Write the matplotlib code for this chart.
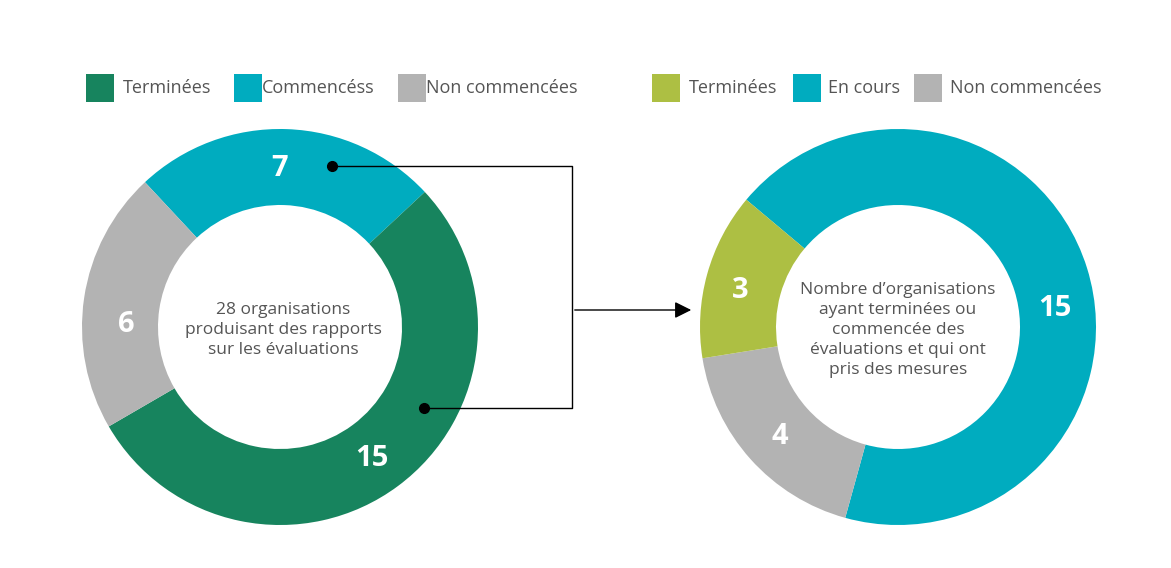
import matplotlib
matplotlib.use("Agg")
import matplotlib.pyplot as plt
from matplotlib.patches import Rectangle

plt.rcParams['font.family'] = ['Open Sans', 'DejaVu Sans']

left_labels = ["Commencéss", "Terminées", "Non commencées"]
left_values = [7, 15, 6]
left_colors = ["#00ACBF", "#17845E", "#B3B3B3"]
left_legend = ["Terminées", "Commencéss", "Non commencées"]
left_legend_colors = ["#17845E", "#00ACBF", "#B3B3B3"]

right_labels = ["En cours", "Non commencées", "Terminées"]
right_values = [15, 4, 3]
right_colors = ["#00ACBF", "#B3B3B3", "#ADBF43"]
right_legend = ["Terminées", "En cours", "Non commencées"]
right_legend_colors = ["#ADBF43", "#00ACBF", "#B3B3B3"]

left_center_text = "28 organisations\nproduisant des rapports\nsur les évaluations"
right_center_text = "Nombre d’organisations\nayant terminées ou\ncommencée des\névaluations et qui ont\npris des mesures"

H = 568
fig = plt.figure(figsize=(11.71, 5.68), dpi=100)
ax = fig.add_axes([0, 0, 1, 1])
ax.set_xlim(0, 1171)
ax.set_ylim(0, H)
ax.axis('off')

R, W = 198, 76
ax.pie(left_values, colors=left_colors, startangle=133, counterclock=False,
       center=(280, H - 327), radius=R, wedgeprops=dict(width=W, linewidth=0), frame=True)
ax.pie(right_values, colors=right_colors, startangle=140, counterclock=False,
       center=(898, H - 327), radius=R, wedgeprops=dict(width=W, linewidth=0), frame=True)
ax.set_xlim(0, 1171)
ax.set_ylim(0, H)
ax.set_aspect('equal')
ax.axis('off')

num_style = dict(color='white', fontsize=21, fontweight='bold', ha='center', va='center')
for (x, y), v in zip([(280, 168), (372, 458), (126, 325)], left_values):
    ax.text(x, H - y, str(v), **num_style)
for (x, y), v in zip([(1055, 308), (780, 436), (740, 290)], right_values):
    ax.text(x, H - y, str(v), **num_style)

ax.text(283, H - 330, left_center_text, ha='center', va='center', fontsize=12.5,
        color='#555555', linespacing=1.35)
ax.text(898, H - 330, right_center_text, ha='center', va='center', fontsize=12.5,
        color='#555555', linespacing=1.35)

def legend(items, colors, sq_x, tx_x):
    for lab, c, sx, tx in zip(items, colors, sq_x, tx_x):
        ax.add_patch(Rectangle((sx, H - 102), 28, 28, color=c, lw=0))
        ax.text(tx, H - 88, lab, ha='left', va='center', fontsize=13, color='#555555')

legend(left_legend, left_legend_colors, [86, 234, 398], [123, 262, 426])
legend(right_legend, right_legend_colors, [652, 793, 914], [689, 828, 950])

# connectors
ax.plot([332, 572, 572, 424], [H - 166, H - 166, H - 408, H - 408], color='black', lw=1)
ax.plot([332, 424], [H - 166, H - 408], 'o', color='black', ms=7, ls='none')
ax.annotate('', xy=(694, H - 310), xytext=(572, H - 310),
            arrowprops=dict(arrowstyle='-|>,head_length=1.0,head_width=0.5', color='black', lw=1))

fig.savefig('out.png', dpi=100)
